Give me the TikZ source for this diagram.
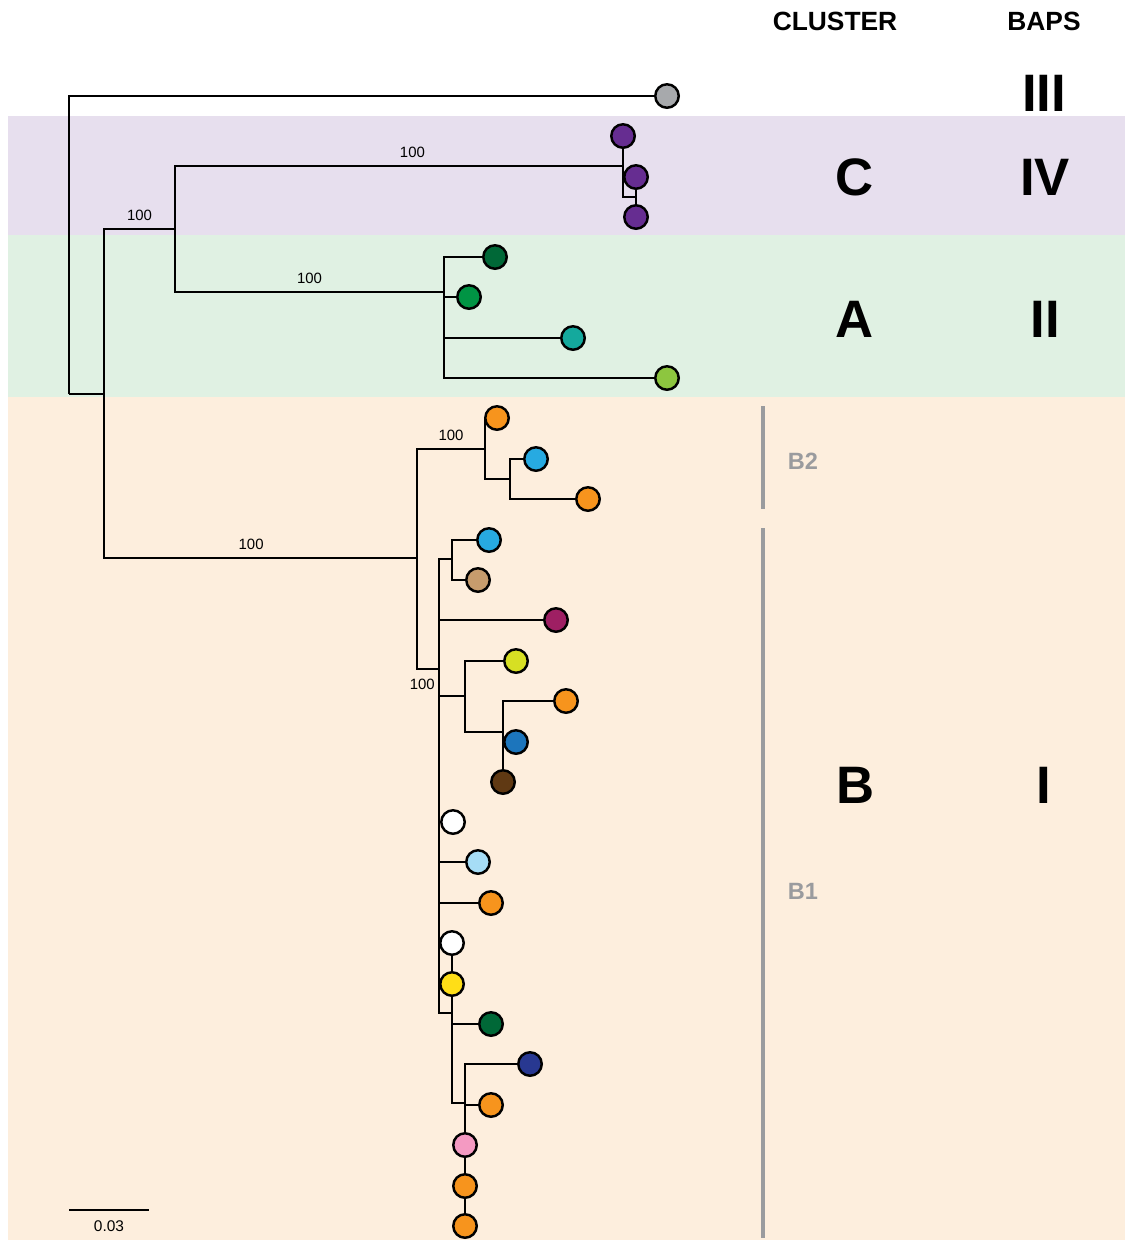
\documentclass[tikz,border=0pt]{standalone}
\usepackage{fontspec}
\setmainfont{Liberation Sans}

\definecolor{bandC}{HTML}{E7DFEE}
\definecolor{bandA}{HTML}{E0F1E3}
\definecolor{bandB}{HTML}{FDEEDD}
\definecolor{barGray}{HTML}{9A9B9E}
\definecolor{lfGray}{HTML}{A7A9AC}
\definecolor{lfPurple}{HTML}{662D91}
\definecolor{lfDkGreen}{HTML}{006837}
\definecolor{lfGreen}{HTML}{009444}
\definecolor{lfTeal}{HTML}{14A99D}
\definecolor{lfLime}{HTML}{8DC63F}
\definecolor{lfOrange}{HTML}{F7941D}
\definecolor{lfSky}{HTML}{27AAE1}
\definecolor{lfTan}{HTML}{C69C6D}
\definecolor{lfMagenta}{HTML}{9E1F63}
\definecolor{lfYellowGreen}{HTML}{D7DF23}
\definecolor{lfBlue}{HTML}{1C75BC}
\definecolor{lfBrown}{HTML}{603913}
\definecolor{lfLightBlue}{HTML}{A6DDF6}
\definecolor{lfYellow}{HTML}{FFDE17}
\definecolor{lfNavy}{HTML}{283891}
\definecolor{lfPink}{HTML}{F49AC2}

\pgfdeclarelayer{bands}
\pgfdeclarelayer{edges}
\pgfsetlayers{bands,edges,main}

\tikzset{
  leaf/.style = {circle, draw = black, line width = 1.4pt, minimum size = 0.47cm, inner sep = 0pt},
  branch/.style = {line width = 1.4pt, color = black},
  boot/.style = {pos = 0.75, above = 0.5pt, font = \fontsize{8.5}{9}\selectfont},
  big/.style = {font = \fontsize{30}{30}\selectfont\bfseries},
  head/.style = {font = \fontsize{15}{15}\selectfont\bfseries},
  sub/.style = {font = \fontsize{13.4}{14}\selectfont\bfseries, color = barGray},
  bar/.style = {line width = 2.4pt, color = barGray}
}

\begin{document}
\begin{tikzpicture}[x = 0.02cm, y = -0.02cm]
\useasboundingbox (0, 0) rectangle (1125, 1242);
\begin{pgfonlayer}{bands}
\fill[white] (0, 0) rectangle (1125, 1242);
\fill[bandC] (8, 116) rectangle (1125, 235);
\fill[bandA] (8, 235) rectangle (1125, 397);
\fill[bandB] (8, 397) rectangle (1125, 1240);
\end{pgfonlayer}

% internal nodes
\coordinate (r0) at (69, 394);
\coordinate (n1) at (104, 394);
\coordinate (n2) at (175, 229);
\coordinate (nC) at (623, 166);
\coordinate (nC2) at (636, 197);
\coordinate (nA) at (444, 292);
\coordinate (nB) at (417, 558);
\coordinate (nB2) at (485, 449);
\coordinate (nB2b) at (510, 479);
\coordinate (nB1) at (439, 669);
\coordinate (nB1a) at (452, 559);
\coordinate (nB1b) at (465, 696);
\coordinate (nB1d) at (503, 732);
\coordinate (nB1c) at (452, 1013);
\coordinate (nB1e) at (465, 1103);

% leaves
\node[leaf, fill = lfGray] (out) at (667, 96) {};
\node[leaf, fill = lfPurple] (c1) at (623, 136) {};
\node[leaf, fill = lfPurple] (c2) at (636, 177) {};
\node[leaf, fill = lfPurple] (c3) at (636, 217) {};
\node[leaf, fill = lfDkGreen] (a1) at (495, 257) {};
\node[leaf, fill = lfGreen] (a2) at (469, 297) {};
\node[leaf, fill = lfTeal] (a3) at (573, 338) {};
\node[leaf, fill = lfLime] (a4) at (667, 378) {};
\node[leaf, fill = lfOrange] (b2x) at (497, 418) {};
\node[leaf, fill = lfSky] (b2y) at (536, 459) {};
\node[leaf, fill = lfOrange] (b2z) at (588, 499) {};
\node[leaf, fill = lfSky] (b1a) at (489, 540) {};
\node[leaf, fill = lfTan] (b1b) at (478, 580) {};
\node[leaf, fill = lfMagenta] (b1c) at (556, 620) {};
\node[leaf, fill = lfYellowGreen] (b1d) at (516, 661) {};
\node[leaf, fill = lfOrange] (b1e) at (566, 701) {};
\node[leaf, fill = lfBlue] (b1f) at (516, 742) {};
\node[leaf, fill = lfBrown] (b1g) at (503, 782) {};
\node[leaf, fill = white] (b1h) at (453, 822) {};
\node[leaf, fill = lfLightBlue] (b1i) at (478, 862) {};
\node[leaf, fill = lfOrange] (b1j) at (491, 903) {};
\node[leaf, fill = white] (b1k) at (452, 943) {};
\node[leaf, fill = lfYellow] (b1l) at (452, 984) {};
\node[leaf, fill = lfDkGreen] (b1m) at (491, 1024) {};
\node[leaf, fill = lfNavy] (b1n) at (530, 1064) {};
\node[leaf, fill = lfOrange] (b1o) at (491, 1105) {};
\node[leaf, fill = lfPink] (b1p) at (465, 1145) {};
\node[leaf, fill = lfOrange] (b1q) at (465, 1186) {};
\node[leaf, fill = lfOrange] (b1r) at (465, 1226) {};

\begin{pgfonlayer}{edges}
\draw[branch] (r0) |- (out) (r0) |- (n1);
\draw[branch] (n1) |- node[boot] {100} (n2);
\draw[branch] (n1) |- node[boot, pos = 0.735] {100} (nB);
\draw[branch] (n2) |- node[boot, pos = 0.765] {100} (nC);
\draw[branch] (n2) |- node[boot] {100} (nA);
\draw[branch] (nC) |- (c1) (nC) |- (nC2);
\draw[branch] (nC2) |- (c2) (nC2) |- (c3);
\draw[branch] (nA) |- (a1) (nA) |- (a2) (nA) |- (a3) (nA) |- (a4);
\draw[branch] (nB) |- node[boot] {100} (nB2);
\draw[branch] (nB) |- node[pos = 0.5, below = 1.5pt, xshift = 3pt, font = \fontsize{8.5}{9}\selectfont] {100} (nB1);
\draw[branch] (nB2) |- (b2x) (nB2) |- (nB2b);
\draw[branch] (nB2b) |- (b2y) (nB2b) |- (b2z);
\draw[branch] (nB1) |- (nB1a) (nB1) |- (b1c) (nB1) |- (nB1b)
  (nB1) |- (b1h) (nB1) |- (b1i) (nB1) |- (b1j) (nB1) |- (nB1c);
\draw[branch] (nB1a) |- (b1a) (nB1a) |- (b1b);
\draw[branch] (nB1b) |- (b1d) (nB1b) |- (nB1d);
\draw[branch] (nB1d) |- (b1e) (nB1d) |- (b1f) (nB1d) |- (b1g);
\draw[branch] (nB1c) |- (b1k) (nB1c) |- (b1l) (nB1c) |- (b1m) (nB1c) |- (nB1e);
\draw[branch] (nB1e) |- (b1n) (nB1e) |- (b1o) (nB1e) |- (b1p)
  (nB1e) |- (b1q) (nB1e) |- (b1r);
\end{pgfonlayer}

% scale bar
\coordinate (sbL) at (69, 1210);
\coordinate (sbR) at (149, 1210);
\draw[line width = 0.8pt] (sbL) -- node[below = 2.5pt, font = \fontsize{8.8}{9}\selectfont] {0.03} (sbR);

% subclade bars
\coordinate (b2top) at (763, 406);
\coordinate (b2bot) at (763, 509);
\coordinate (b1top) at (763, 528);
\coordinate (b1bot) at (763, 1238);
\draw[bar] (b2top) -- (b2bot);
\draw[bar] (b1top) -- (b1bot);
\node[sub] (labB2) at (803, 461) {B2};
\node[sub] (labB1) at (803, 891) {B1};

% columns
\node[head] (hCluster) at (835, 21) {CLUSTER};
\node[head] (hBaps) at (1044, 21) {BAPS};
\node[big] (bIII) at (1044, 93) {III};
\node[big] (cC) at (855, 177) {C};
\node[big] (bIV) at (1045, 177) {IV};
\node[big] (cA) at (855, 319) {A};
\node[big] (bII) at (1045, 319) {II};
\node[big] (cB) at (856, 785) {B};
\node[big] (bI) at (1044, 785) {I};
\end{tikzpicture}
\end{document}
